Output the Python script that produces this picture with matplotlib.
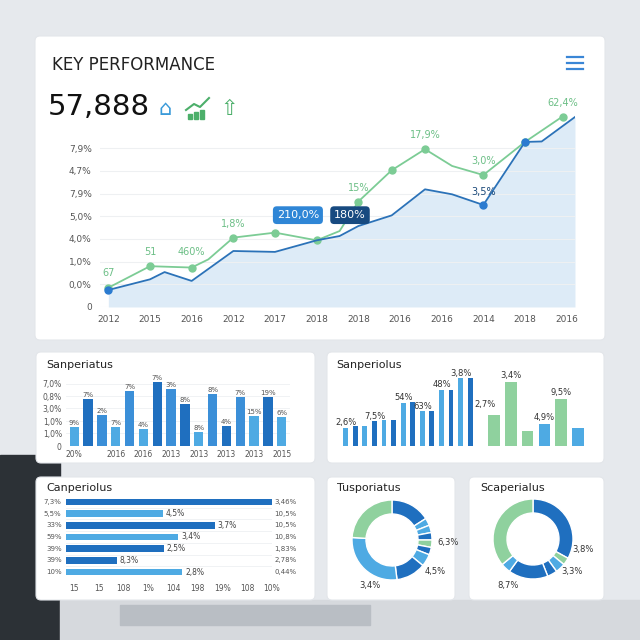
import matplotlib
matplotlib.use("Agg")
import matplotlib.pyplot as plt
from matplotlib.patches import FancyBboxPatch, Rectangle
import numpy as np

plt.rcParams['font.family'] = ['DejaVu Sans']

# ---- data ----
year_labels = ["2012","2015","2016","2012","2017","2018","2018","2016","2016","2014","2018","2016"]
y_tick_labels = ["0","0,0%","1,0%","4,0%","5,0%","7,9%","4,7%","7,9%"]
green_x = [0,1,2,2.4,3,4,5,5.55,6,6.8,7.6,8.25,9,10,10.9]
green_y = [0.85,1.8,1.74,2.1,3.06,3.28,2.94,3.35,4.65,6.03,6.96,6.22,5.82,7.28,8.4]
green_mark = [0,1,2,4,5,6,8,9,10,12,13,14]
blue_x = [0,1,1.35,2,3,4,5,5.55,6,6.8,7.6,8.25,9,10,10.4,11.2]
blue_y = [0.75,1.22,1.54,1.15,2.47,2.43,2.94,3.13,3.57,4.04,5.19,4.97,4.5,7.28,7.3,8.38]
blue_mark = [0,12,13]
green_notes = [("67",0,1.35),("51",1,2.3),("460%",2,2.3),("1,8%",3,3.55),("15%",6,5.1),("17,9%",7.6,7.45),("3,0%",9,6.3),("62,4%",10.9,8.85)]
blue_notes = [("3,5%",9,4.95)]

bar1_vals = [60,150,97,60,175,54,203,180,132,45,165,63,156,95,154,93]
bar1_cols = "LDMLMLDMDLMDMLDL"
bar1_labels = ["9%","7%","2%","7%","7%","4%","7%","3%","8%","8%","8%","4%","7%","15%","19%","6%"]
bar1_ticks = [0,41,78,119,157,197]
bar1_ticklabels = ["0","1,0%","1,0%","3,0%","0,8%","7,0%"]
bar1_xlabels = {0:"20%",3:"2016",5:"2016",7:"2013",9:"2013",11:"2013",13:"2013",15:"2015"}

bar2_blue = [55,60,62,75,80,80,130,132,105,106,170,170,205,205]
bar2_blue_labels = {0:"2,6%",3:"7,5%",6:"54%",8:"63%",10:"48%",12:"3,8%"}
bar2_green = [93,193,45,68,143,53]
bar2_green_cols = "GGGBGB"
bar2_green_labels = {1:"3,4%",3:"4,9%",4:"9,5%"}

hbar_vals = [557,262,402,304,264,137,315]
hbar_cols = "DLDLDDL"
hbar_left = ["7,3%","5,5%","33%","59%","39%","39%","10%"]
hbar_val_labels = ["","4,5%","3,7%","3,4%","2,5%","8,3%","2,8%"]
hbar_right = ["3,46%","10,5%","10,5%","10,8%","1,83%","2,78%","0,44%"]
hbar_xticks = ["15","15","108","1%","104","198","19%","108","10%"]

donut1 = [16,3,3,3,3,3,5,12,28,24]
donut1_cols = "DLLDGDLDLG"
donut2 = [33,3,4,4,16,4,36]
donut2_cols = "DGLDDLG"

C = {"D":"#1f6fbf","L":"#4eaae3","M":"#3b8fd8","G":"#8fd19e","B":"#4eaae3"}
GREEN = "#7ccc95"; BLUE = "#2b72b8"

fig = plt.figure(figsize=(6.4,6.4), dpi=100)
fig.patch.set_facecolor("#e6e9ed")
W = H = 640
def px(x0,y0,x1,y1):
    return [x0/W, 1-y1/H, (x1-x0)/W, (y1-y0)/H]

# background shapes
bg = fig.add_axes([0,0,1,1]); bg.set_axis_off(); bg.set_xlim(0,640); bg.set_ylim(640,0)
bg.add_patch(Rectangle((0,455),60,185,color="#2c3136"))
bg.add_patch(Rectangle((60,600),580,40,color="#d6d9dd"))
bg.add_patch(Rectangle((120,605),250,20,color="#b9bec4"))
for (x0,y0,x1,y1) in [(35,36,605,340),(36,352,315,463),(327,352,604,463),(36,477,315,600),(327,477,455,600),(469,477,604,600)]:
    bg.add_patch(FancyBboxPatch((x0,y0),x1-x0,y1-y0,boxstyle="round,pad=0,rounding_size=5",fc="white",ec="#e3e6ea",lw=0.8))
bg.text(52,65,"KEY PERFORMANCE",fontsize=12,va="center",color="#222")
for dy in (-6,0,6):
    bg.plot([567,583],[63+dy,63+dy],color="#3a86d6",lw=1.6)
bg.text(48,107,"57,888",fontsize=21,va="center",color="#111")
bg.text(158,109,"⌂",fontsize=15,va="center",color="#3a9ad9")
for i,hh in enumerate([5,7,9]):
    bg.add_patch(Rectangle((188+i*6,119-hh),4,hh,color="#4caf6a"))
bg.plot([186,194,200,209],[110,104,107,98],color="#4caf6a",lw=1.5)
bg.text(220,109,"⇧",fontsize=15,va="center",color="#4caf6a")

# main line chart
ax = fig.add_axes(px(100,112,575,307))
ax.set_xlim(-0.2,11.2); ax.set_ylim(0,8.6)
ax.fill_between(blue_x, blue_y, 0, color="#d5e6f6", alpha=0.8, lw=0)
ax.plot(green_x, green_y, color=GREEN, lw=1.3)
ax.plot([green_x[i] for i in green_mark],[green_y[i] for i in green_mark],"o",color=GREEN,ms=5)
ax.plot(blue_x, blue_y, color=BLUE, lw=1.3)
ax.plot([blue_x[i] for i in blue_mark],[blue_y[i] for i in blue_mark],"o",color="#2b7bd0",ms=5)
for t,x,y in green_notes:
    ax.text(x,y,t,fontsize=7,color="#6cbf86",ha="center")
for t,x,y in blue_notes:
    ax.text(x,y,t,fontsize=7,color="#1c4a7a",ha="center")
ax.text(4.55,4.05,"210,0%",fontsize=8,color="white",ha="center",va="center",
        bbox=dict(boxstyle="round,pad=0.35",fc="#2f86d6",ec="none"))
ax.text(5.8,4.05,"180%",fontsize=8,color="white",ha="center",va="center",
        bbox=dict(boxstyle="round,pad=0.35",fc="#174a80",ec="none"))
ax.set_yticks(range(8)); ax.set_yticklabels(y_tick_labels, fontsize=6.5, color="#555")
ax.set_xticks(range(12)); ax.set_xticklabels(year_labels, fontsize=6.5, color="#555")
ax.grid(axis="y", color="#eef0f2", lw=0.8)
ax.tick_params(length=0, pad=6)
for s in ax.spines.values(): s.set_visible(False)
ax.patch.set_alpha(0)

# bar chart 1
bg.text(46,365,"Sanperiatus",fontsize=8,va="center",color="#222")
a1 = fig.add_axes(px(66,378,290,446))
a1.bar(range(16), bar1_vals, width=0.68, color=[C[c] for c in bar1_cols])
for i,(v,l) in enumerate(zip(bar1_vals,bar1_labels)):
    a1.text(i,v+6,l,fontsize=5,ha="center",color="#555")
a1.set_ylim(0,215); a1.set_xlim(-0.6,15.6)
a1.set_yticks(bar1_ticks); a1.set_yticklabels(bar1_ticklabels,fontsize=5.5,color="#555")
a1.set_xticks(list(bar1_xlabels)); a1.set_xticklabels(list(bar1_xlabels.values()),fontsize=5.5,color="#555")
a1.grid(axis="y",color="#eef0f2",lw=0.6); a1.set_axisbelow(True)
a1.tick_params(length=0,pad=3)
for s in a1.spines.values(): s.set_visible(False)

# bar chart 2
bg.text(336,365,"Sanperiolus",fontsize=8,va="center",color="#222")
a2 = fig.add_axes(px(340,375,585,446))
bx = np.arange(14)
a2.bar(bx, bar2_blue, width=0.5, color=[C["L"] if i%2==0 else C["D"] for i in bx])
for i,l in bar2_blue_labels.items():
    a2.text(i,bar2_blue[i]+8,l,fontsize=6,ha="center",color="#333")
gx = 15.5 + np.arange(6)*1.75
a2.bar(gx, bar2_green, width=1.2, color=[C[c] for c in bar2_green_cols])
for i,l in bar2_green_labels.items():
    a2.text(gx[i],bar2_green[i]+12,l,fontsize=6,ha="center",color="#333")
a2.text(gx[0]-0.9,bar2_green[0]+25,"2,7%",fontsize=6,ha="center",color="#333")
a2.set_ylim(0,215); a2.set_xlim(-0.6,25)
a2.set_axis_off()

# horizontal bars
bg.text(46,488,"Canperiolus",fontsize=8,va="center",color="#222")
a3 = fig.add_axes(px(66,496,272,578))
yy = np.arange(7)
a3.barh(yy, hbar_vals, height=0.55, color=[C[c] for c in hbar_cols])
for i,l in enumerate(hbar_val_labels):
    if l: a3.text(hbar_vals[i]+8,i,l,fontsize=5.5,va="center",color="#444")
    a3.text(-12,i,hbar_left[i],fontsize=5,va="center",ha="right",color="#555")
    a3.text(563,i,hbar_right[i],fontsize=5,va="center",ha="left",color="#555")
a3.set_ylim(6.5,-0.5); a3.set_xlim(0,557)
a3.set_xticks(np.linspace(22,557,9)); a3.set_xticklabels(hbar_xticks,fontsize=5.5,color="#555")
a3.set_yticks(yy+0.5); a3.set_yticklabels([]); a3.grid(axis="y",color="#eef0f2",lw=0.6)
a3.tick_params(length=0,pad=4)
for s in a3.spines.values(): s.set_visible(False)

# donuts
bg.text(337,488,"Tusporiatus",fontsize=8,va="center",color="#222")
d1 = fig.add_axes(px(342,490,442,590))
d1.pie(donut1, colors=[C[c] for c in donut1_cols], startangle=90, counterclock=False,
       wedgeprops=dict(width=0.35,edgecolor="white",linewidth=1))
bg.text(437,545,"6,3%",fontsize=6,color="#333"); bg.text(425,574,"4,5%",fontsize=6,color="#333")
bg.text(359,588,"3,4%",fontsize=6,color="#333")

bg.text(480,488,"Scaperialus",fontsize=8,va="center",color="#222")
d2 = fig.add_axes(px(483,489,583,589))
d2.pie(donut2, colors=[C[c] for c in donut2_cols], startangle=90, counterclock=False,
       wedgeprops=dict(width=0.35,edgecolor="white",linewidth=1))
bg.text(572,552,"3,8%",fontsize=6,color="#333"); bg.text(561,574,"3,3%",fontsize=6,color="#333")
bg.text(497,588,"8,7%",fontsize=6,color="#333")

fig.savefig("out.png", dpi=100, facecolor=fig.get_facecolor())
